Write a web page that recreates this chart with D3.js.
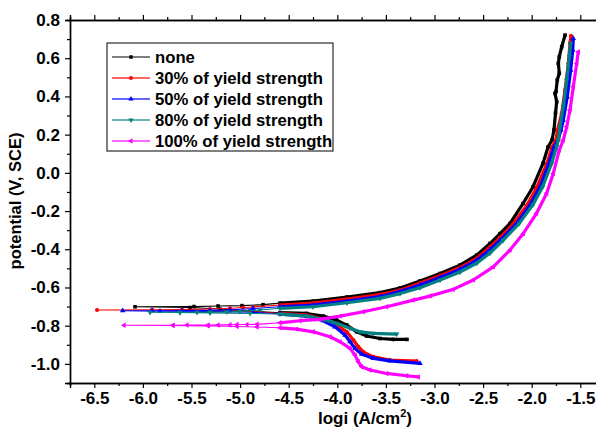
<!DOCTYPE html>
<html>
<head>
<meta charset="utf-8">
<script src="https://cdn.jsdelivr.net/npm/d3@7"></script>
<style>
  body { margin: 0; background: #fff; }
  svg text { font-family: 'Liberation Sans', Arial, sans-serif; font-weight: bold; fill: #000; }
</style>
</head>
<body>
<svg id="chart" width="596" height="430"></svg>
<script>
// series labels (legend order)
var labels = ['none', '30% of yield strength', '50% of yield strength', '80% of yield strength', '100% of yield strength']

// each curve: cathodic end -> Ecorr (leftmost) -> anodic end
var noneLogi = [-3.283, -3.424, -3.561, -3.698, -3.800, -3.903, -4.006, -4.144, -4.315, -4.590, -4.898, -5.207, -5.515, -6.081,
  -5.474, -5.227, -4.980, -4.764, -4.590, -4.250, -3.900, -3.561, -3.355, -3.149, -2.943, -2.738, -2.563, -2.429, -2.326, -2.223,
  -2.090, -1.987, -1.884, -1.832, -1.791, -1.771, -1.755, -1.743, -1.760, -1.750, -1.737, -1.716, -1.726, -1.716, -1.691, -1.657]
var noneE = [-0.872, -0.872, -0.867, -0.854, -0.832, -0.797, -0.771, -0.750, -0.736, -0.732, -0.724, -0.713, -0.705, -0.701,
  -0.700, -0.697, -0.695, -0.690, -0.682, -0.671, -0.650, -0.627, -0.603, -0.566, -0.527, -0.483, -0.430, -0.370, -0.318, -0.265,
  -0.161, -0.074, 0.049, 0.135, 0.172, 0.224, 0.313, 0.372, 0.416, 0.425, 0.486, 0.521, 0.573, 0.608, 0.660, 0.721]

var y30Logi = [-3.183, -3.458, -3.630, -3.733, -3.784, -3.835, -3.903, -4.006, -4.144, -4.315, -4.590, -4.867, -5.104, -5.598, -5.906, -6.472,
  -5.906, -5.598, -5.310, -5.104, -4.970, -4.867, -4.590, -4.250, -3.900, -3.561, -3.355, -3.149, -2.943, -2.738, -2.563, -2.429,
  -2.326, -2.192, -2.048, -1.946, -1.843, -1.791, -1.750, -1.735, -1.691, -1.657, -1.623, -1.606, -1.596]
var y30E = [-0.985, -0.980, -0.963, -0.937, -0.910, -0.875, -0.832, -0.797, -0.767, -0.745, -0.736, -0.726, -0.722, -0.719, -0.718, -0.718,
  -0.717, -0.716, -0.713, -0.709, -0.705, -0.702, -0.692, -0.682, -0.661, -0.637, -0.614, -0.577, -0.538, -0.496, -0.446, -0.388,
  -0.339, -0.268, -0.169, -0.074, 0.049, 0.135, 0.172, 0.224, 0.312, 0.434, 0.573, 0.678, 0.718]

var y50Logi = [-3.149, -3.458, -3.630, -3.749, -3.818, -3.869, -3.921, -4.024, -4.144, -4.315, -4.590, -4.867, -5.310, -5.824, -6.208,
  -5.906, -5.598, -5.310, -5.104, -4.867, -4.590, -4.250, -3.900, -3.561, -3.355, -3.149, -2.943, -2.738, -2.563, -2.429, -2.326,
  -2.154, -2.018, -1.915, -1.822, -1.771, -1.729, -1.699, -1.675, -1.634, -1.599, -1.578, -1.572]
var y50E = [-0.997, -0.984, -0.971, -0.949, -0.919, -0.884, -0.849, -0.806, -0.774, -0.750, -0.739, -0.730, -0.725, -0.724, -0.722,
  -0.722, -0.721, -0.720, -0.717, -0.710, -0.701, -0.692, -0.671, -0.648, -0.621, -0.587, -0.548, -0.506, -0.457, -0.402, -0.354,
  -0.264, -0.169, -0.074, 0.050, 0.135, 0.172, 0.224, 0.276, 0.398, 0.538, 0.643, 0.704]

var y80Logi = [-3.389, -3.630, -3.767, -3.869, -4.006, -4.144, -4.315, -4.590, -4.898, -5.310, -5.618, -5.927,
  -5.618, -5.443, -5.310, -5.135, -5.001, -4.795, -4.590, -4.250, -3.900, -3.561, -3.355, -3.149, -2.943, -2.738, -2.563, -2.429,
  -2.292, -2.128, -1.990, -1.887, -1.794, -1.743, -1.726, -1.709, -1.675, -1.640, -1.613, -1.599]
var y80E = [-0.844, -0.840, -0.832, -0.814, -0.788, -0.767, -0.750, -0.739, -0.736, -0.733, -0.731, -0.730,
  -0.730, -0.730, -0.729, -0.728, -0.725, -0.718, -0.709, -0.701, -0.680, -0.657, -0.632, -0.601, -0.561, -0.519, -0.472, -0.420,
  -0.352, -0.264, -0.169, -0.073, 0.050, 0.137, 0.172, 0.241, 0.346, 0.486, 0.608, 0.678]

var y100Logi = [-3.167, -3.286, -3.492, -3.664, -3.749, -3.784, -3.818, -3.869, -3.972, -4.075, -4.247, -4.418, -4.590, -4.826, -5.032, -5.330, -5.690, -6.194,
  -5.690, -5.546, -5.330, -5.227, -5.104, -5.032, -4.929, -4.826, -4.590, -4.384, -4.178, -3.972, -3.733, -3.492, -3.218, -3.046,
  -2.807, -2.601, -2.395, -2.223, -2.086, -1.950, -1.846, -1.778, -1.716, -1.675, -1.640, -1.606, -1.572, -1.537, -1.521]
var y100E = [-1.068, -1.062, -1.050, -1.032, -1.015, -0.989, -0.954, -0.919, -0.884, -0.858, -0.832, -0.818, -0.811, -0.807, -0.804, -0.801, -0.799, -0.798,
  -0.798, -0.797, -0.797, -0.796, -0.795, -0.794, -0.794, -0.793, -0.785, -0.774, -0.767, -0.750, -0.727, -0.701, -0.666, -0.645,
  -0.610, -0.561, -0.492, -0.404, -0.317, -0.212, -0.107, -0.003, 0.119, 0.172, 0.241, 0.329, 0.451, 0.573, 0.634]

// axis ticks
var xTicks = [-6.5, -6.0, -5.5, -5.0, -4.5, -4.0, -3.5, -3.0, -2.5, -2.0, -1.5]
var xMinor = [-6.75, -6.25, -5.75, -5.25, -4.75, -4.25, -3.75, -3.25, -2.75, -2.25, -1.75, -1.25]
var yTicks = [-1.0, -0.8, -0.6, -0.4, -0.2, 0.0, 0.2, 0.4, 0.6, 0.8]
var yMinor = [-1.1, -0.9, -0.7, -0.5, -0.3, -0.1, 0.1, 0.3, 0.5, 0.7]

var colors = ['#000000', '#ff0000', '#0000ff', '#008080', '#ff00ff']
var symbols = [d3.symbolSquare, d3.symbolCircle, d3.symbolTriangle, d3.symbolTriangle, d3.symbolTriangle]
var rotations = [0, 0, 0, 180, -90]

var series = [
  {logi: noneLogi, e: noneE},
  {logi: y30Logi, e: y30E},
  {logi: y50Logi, e: y50E},
  {logi: y80Logi, e: y80E},
  {logi: y100Logi, e: y100E}
].map(function (s, i) {
  return {
    name: labels[i],
    color: colors[i],
    symbol: symbols[i],
    rot: rotations[i],
    pts: s.logi.map(function (v, j) { return {x: v, y: s.e[j]} })
  }
})

var svg = d3.select('#chart')
// plot frame (right edge lies past the picture, as in the cropped original)
var mLeft = 70, mRight = 604.6, mTop = 20, mBottom = 383

var x = d3.scaleLinear().domain([-6.75, -1.25]).range([mLeft, mRight])
var y = d3.scaleLinear().domain([-1.1, 0.8]).range([mBottom, mTop])

var fmt = function (d) { return d.toFixed(1) }

// curves
var thin = d3.line().x(function (d) { return x(d.x) }).y(function (d) { return y(d.y) })
// dense data region is drawn thicker
var thick = d3.line().defined(function (d) { return d.x > -4.75 })
  .x(function (d) { return x(d.x) }).y(function (d) { return y(d.y) })

var plot = svg.append('g')
series.forEach(function (s) {
  var g = plot.append('g')
  g.append('path').attr('d', thin(s.pts))
    .attr('fill', 'none').attr('stroke', s.color).attr('stroke-width', 1.1)
  g.append('path').attr('d', thick(s.pts))
    .attr('fill', 'none').attr('stroke', s.color).attr('stroke-width', 3.2)
    .attr('stroke-linejoin', 'round')
  var sym = d3.symbol().type(s.symbol).size(13)
  g.selectAll('path.m')
    .data(s.pts)
    .enter()
    .append('path')
    .attr('class', 'm')
    .attr('d', sym)
    .attr('fill', s.color)
    .attr('transform', function (d) { return 'translate(' + x(d.x) + ',' + y(d.y) + ') rotate(' + s.rot + ')' })
})

// axes
function styleAxis (g) {
  g.selectAll('.domain').attr('stroke', '#000').attr('stroke-width', 1.4)
  g.selectAll('.tick line').attr('stroke', '#000').attr('stroke-width', 1.2)
  g.selectAll('.tick text').style('font-size', '17px').attr('fill', '#000')
}

svg.append('g')
  .attr('transform', 'translate(0,' + mBottom + ')')
  .call(d3.axisBottom(x).tickValues(xMinor).tickSize(3).tickFormat(''))
  .call(styleAxis)
svg.append('g')
  .attr('transform', 'translate(0,' + mBottom + ')')
  .call(d3.axisBottom(x).tickValues(xTicks).tickSize(5).tickPadding(4).tickFormat(fmt))
  .call(styleAxis)

svg.append('g')
  .attr('transform', 'translate(0,' + mTop + ')')
  .call(d3.axisTop(x).tickValues(xMinor).tickSize(3).tickFormat(''))
  .call(styleAxis)
svg.append('g')
  .attr('transform', 'translate(0,' + mTop + ')')
  .call(d3.axisTop(x).tickValues(xTicks).tickSize(5).tickFormat(''))
  .call(styleAxis)

svg.append('g')
  .attr('transform', 'translate(' + mLeft + ',0)')
  .call(d3.axisLeft(y).tickValues(yMinor).tickSize(3).tickFormat(''))
  .call(styleAxis)
svg.append('g')
  .attr('transform', 'translate(' + mLeft + ',0)')
  .call(d3.axisLeft(y).tickValues(yTicks).tickSize(5).tickPadding(5).tickFormat(fmt))
  .call(styleAxis)

// axis titles
var xt = svg.append('text')
  .attr('x', 365).attr('y', 424)
  .attr('text-anchor', 'middle')
  .style('font-size', '17px')
xt.append('tspan').text('logi (A/cm')
xt.append('tspan').text('2').attr('dy', -7).style('font-size', '11px')
xt.append('tspan').text(')').attr('dy', 7)

svg.append('text')
  .attr('transform', 'translate(21,201) rotate(-90)')
  .attr('text-anchor', 'middle')
  .style('font-size', '16.5px')
  .text('potential (V, SCE)')

// legend
var lg = svg.append('g').attr('transform', 'translate(107,43)')
lg.append('rect').attr('width', 226).attr('height', 108)
  .attr('fill', '#fff').attr('stroke', '#000').attr('stroke-width', 1)
series.forEach(function (s, i) {
  var ry = 14 + i * 21
  lg.append('line').attr('x1', 5).attr('x2', 43).attr('y1', ry).attr('y2', ry)
    .attr('stroke', s.color).attr('stroke-width', i === 0 ? 1.2 : 2).attr('stroke-opacity', i === 0 ? 1 : 0.6)
  lg.append('path').attr('d', d3.symbol().type(s.symbol).size(12))
    .attr('fill', s.color)
    .attr('transform', 'translate(24,' + ry + ') rotate(' + s.rot + ')')
  lg.append('text').attr('x', 48).attr('y', ry + 6)
    .style('font-size', '16.7px')
    .text(s.name)
})
</script>
</body>
</html>
